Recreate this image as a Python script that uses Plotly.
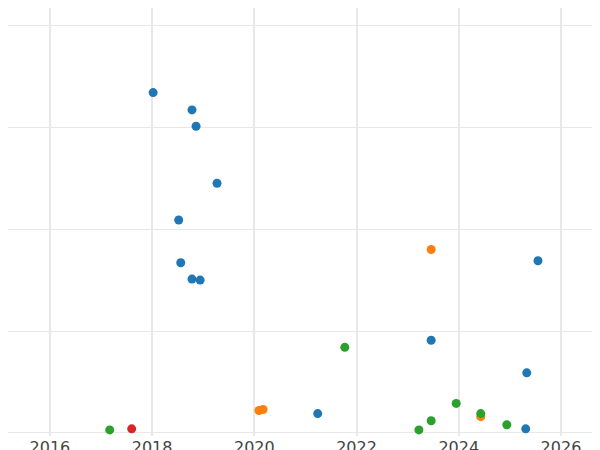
import plotly.graph_objects as go

blue_x = [2018.02, 2018.78, 2018.86, 2019.27, 2018.52, 2018.56, 2018.78, 2018.94, 2025.55, 2023.46, 2025.33, 2021.24, 2025.31]
blue_y = [3.34, 3.17, 3.01, 2.45, 2.09, 1.67, 1.51, 1.50, 1.69, 0.91, 0.59, 0.19, 0.04]
orange_x = [2023.46, 2020.09, 2020.17, 2024.43]
orange_y = [1.80, 0.22, 0.23, 0.16]
green_x = [2021.77, 2017.17, 2023.95, 2023.46, 2024.43, 2023.22, 2024.94]
green_y = [0.84, 0.03, 0.29, 0.12, 0.19, 0.03, 0.08]
red_x = [2017.60]
red_y = [0.04]

fig = go.Figure()
for xs, ys, c in [(blue_x, blue_y, "#1f77b4"), (orange_x, orange_y, "#ff7f0e"),
                  (green_x, green_y, "#2ca02c"), (red_x, red_y, "#d62728")]:
    fig.add_trace(go.Scatter(x=xs, y=ys, mode="markers", cliponaxis=False,
                             marker=dict(color=c, size=9), showlegend=False))

fig.update_layout(
    width=600, height=450, margin=dict(l=0, r=0, t=0, b=22, pad=0, autoexpand=False),
    plot_bgcolor="white", paper_bgcolor="white",
    font=dict(family="DejaVu Sans", size=16, color="#444"),
)
fig.update_xaxes(range=[2015.18, 2026.92], dtick=2, tick0=2016, showgrid=True,
                 gridcolor="#e8e8e8", gridwidth=2, zeroline=False, ticks="")
fig.update_yaxes(range=[-0.03, 4.17], dtick=1, showgrid=True, gridcolor="#e8e8e8",
                 gridwidth=1, zeroline=False, showticklabels=False)
fig.write_html("out.html")
